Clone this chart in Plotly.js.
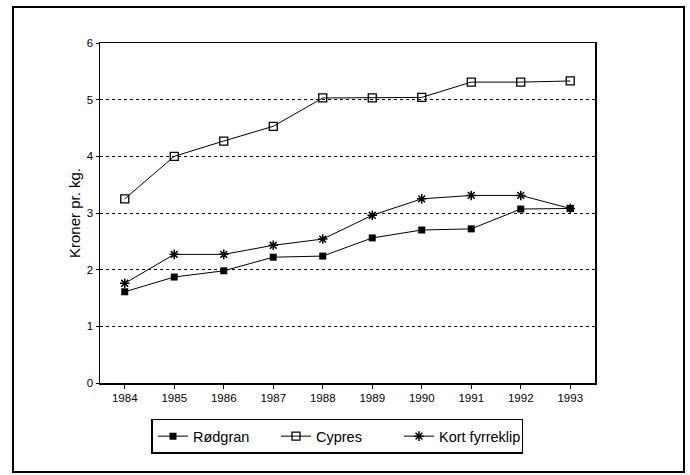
<!DOCTYPE html>
<html>
<head>
<meta charset="utf-8">
<script src="https://cdn.plot.ly/plotly-3.0.1.min.js"></script>
<style>html,body{margin:0;padding:0;background:#fff;}#chart{width:690px;height:475px;}</style>
</head>
<body>
<div id="chart"></div>
<script>
const years = [1984, 1985, 1986, 1987, 1988, 1989, 1990, 1991, 1992, 1993];
const rodgran = [1.61, 1.87, 1.98, 2.22, 2.24, 2.56, 2.70, 2.72, 3.07, 3.08];
const cypres = [3.25, 4.00, 4.27, 4.53, 5.03, 5.03, 5.04, 5.31, 5.31, 5.33];
const kortFyrreklip = [1.76, 2.27, 2.27, 2.43, 2.54, 2.96, 3.25, 3.31, 3.31, 3.08];
const seriesNames = ["Rødgran", "Cypres", "Kort fyrreklip"];
const yTicks = [0, 1, 2, 3, 4, 5, 6];

const font = "Liberation Sans, Arial, sans-serif";
const traces = [
  {x: years, y: rodgran, name: seriesNames[0], mode: "lines+markers",
   line: {color: "#000", width: 1},
   marker: {symbol: "square", size: 7, color: "#000"}},
  {x: years, y: cypres, name: seriesNames[1], mode: "lines+markers",
   line: {color: "#000", width: 1},
   marker: {symbol: "square-open", size: 8, color: "#000", line: {width: 1.3}}},
  {x: years, y: kortFyrreklip, name: seriesNames[2], mode: "lines+markers",
   line: {color: "#000", width: 1},
   marker: {symbol: "asterisk-open", size: 8, color: "#000", line: {width: 1.5, color: "#000"}}}
];

const layout = {
  width: 690, height: 475,
  margin: {l: 100, r: 95, t: 43, b: 92},
  paper_bgcolor: "#fff", plot_bgcolor: "#fff",
  font: {family: font, color: "#000", size: 11.5},
  showlegend: true,
  xaxis: {
    range: [1983.5, 1993.5], tickvals: years, ticktext: years.map(String),
    showgrid: false, zeroline: false, showline: true, linecolor: "#000", linewidth: 1.5,
    mirror: true, ticks: "outside", ticklen: 4, tickcolor: "#000",
    tickfont: {size: 11.5, family: font}
  },
  yaxis: {
    range: [0, 6], tickvals: yTicks, ticktext: yTicks.map(String),
    showgrid: true, gridcolor: "#000", gridwidth: 1, griddash: "dot",
    zeroline: false, showline: true, linecolor: "#000", linewidth: 1.5,
    mirror: true, ticks: "outside", ticklen: 3, tickcolor: "#000",
    tickfont: {size: 11.5, family: font},
    title: {text: "Kroner pr. kg.", font: {size: 15, family: font}, standoff: 2}
  },
  legend: {
    orientation: "h", x: 0.104, xanchor: "left", y: -0.105, yanchor: "top",
    bordercolor: "#000", borderwidth: 1.5, bgcolor: "#fff",
    font: {size: 14.5, family: font},
    entrywidth: 78, entrywidthmode: "pixels", itemwidth: 30
  },
  shapes: [
    {type: "rect", xref: "paper", yref: "paper",
     x0: -0.1758, x1: 1.1798, y0: -0.2618, y1: 1.1059,
     line: {color: "#000", width: 2}}
  ]
};

Plotly.newPlot("chart", traces, layout, {displayModeBar: false, staticPlot: true});
</script>
</body>
</html>
